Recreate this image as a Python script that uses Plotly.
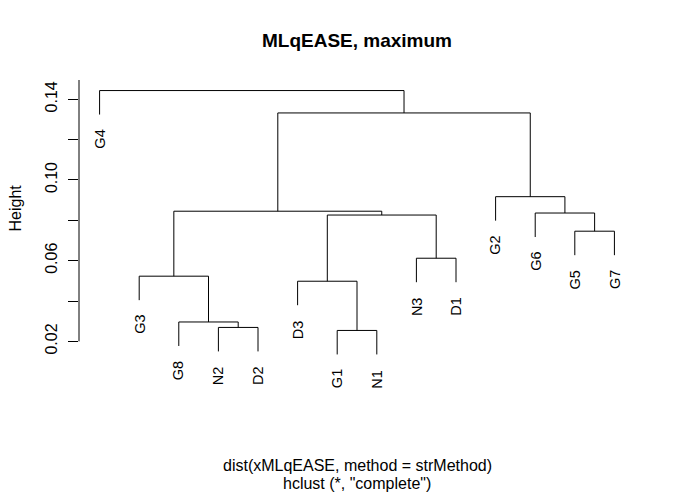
import plotly.graph_objects as go

# Leaf labels in dendrogram order
labels = ["G4", "G3", "G8", "N2", "D2", "D3", "G1", "N1", "N3", "D1", "G2", "G6", "G5", "G7"]

# Merge steps (R-style: negative = leaf index (1-based into labels), positive = earlier merge)
merge_left = [-7, -4, -3, -6, -2, -9, -13, 4, -12, 5, -11, 10, -1]
merge_right = [-8, -5, 2, 1, 3, -10, -14, 6, 7, 8, 9, 11, 12]
merge_height = [0.0254, 0.0269, 0.0296, 0.0498, 0.0523, 0.0612, 0.0746,
                0.0826, 0.0836, 0.0845, 0.0917, 0.1332, 0.1443]

y_tick_vals = [0.02, 0.04, 0.06, 0.08, 0.10, 0.12, 0.14]
y_tick_text = ["0.02", "", "0.06", "", "0.10", "", "0.14"]

title_text = "MLqEASE, maximum"
sub_line1 = "dist(xMLqEASE, method = strMethod)"
sub_line2 = "hclust (*, \"complete\")"

hang = 0.1 * (max(merge_height) - min(merge_height))
FONT = "Liberation Sans, Arial, Helvetica, sans-serif"

# compute positions
node_x = {}
leaf_bottom = {}
xs, ys = [], []

def pos(ref, parent_h):
    if ref < 0:
        i = -ref
        bot = parent_h - hang
        leaf_bottom[i] = bot
        return i, bot
    return node_x[ref], merge_height[ref - 1]

for k in range(len(merge_height)):
    h = merge_height[k]
    xl, yl = pos(merge_left[k], h)
    xr, yr = pos(merge_right[k], h)
    xs += [xl, xl, xr, xr, None]
    ys += [yl, h, h, yr, None]
    node_x[k + 1] = (xl + xr) / 2

fig = go.Figure()
fig.add_trace(go.Scatter(x=xs, y=ys, mode="lines",
                         line=dict(color="black", width=1),
                         hoverinfo="skip", showlegend=False))

for i, lab in enumerate(labels, start=1):
    fig.add_annotation(x=i, y=leaf_bottom[i], text=lab, textangle=-90,
                       showarrow=False, xanchor="center", yanchor="top",
                       yshift=-13, font=dict(family=FONT, size=14.5, color="black"))

n = len(labels)
ypad = 0.04 * (max(merge_height) - (min(merge_height) - hang))
y0 = min(merge_height) - hang - ypad
y1 = max(merge_height) + ypad

fig.add_shape(type="line", xref="paper", x0=0, x1=0, yref="y",
              y0=min(y_tick_vals), y1=y1, line=dict(color="black", width=1))

fig.update_layout(
    width=675, height=497,
    margin=dict(l=79, r=40, t=80, b=132),
    plot_bgcolor="white", paper_bgcolor="white",
    showlegend=False,
    xaxis=dict(range=[1 - 0.04 * (n - 1), n + 0.04 * (n - 1)], visible=False),
    yaxis=dict(range=[y0, y1], tickvals=y_tick_vals, ticktext=y_tick_text,
               ticks="outside", ticklen=10, tickcolor="black", tickwidth=1,
               tickangle=-90, showgrid=False, zeroline=False, showline=False,
               ticklabelstandoff=5,
               tickfont=dict(family=FONT, size=16, color="black")),
    title=dict(text="<b>" + title_text + "</b>", x=0.5, xref="paper",
               y=1 - 40 / 497, yref="container", yanchor="middle",
               font=dict(family=FONT, size=19, color="black")),
)

fig.add_annotation(text="Height", textangle=-90, xref="paper", yref="paper",
                   x=0, y=0.5, xanchor="center", yanchor="middle",
                   xshift=-64, yshift=14, showarrow=False,
                   font=dict(family=FONT, size=16, color="black"))

fig.add_annotation(text=sub_line1, xref="paper", yref="paper", x=0.5, y=0,
                   xanchor="center", yanchor="middle", yshift=-100,
                   showarrow=False,
                   font=dict(family=FONT, size=16, color="black"))
fig.add_annotation(text=sub_line2, xref="paper", yref="paper", x=0.5, y=0,
                   xanchor="center", yanchor="middle", yshift=-118,
                   showarrow=False,
                   font=dict(family=FONT, size=16, color="black"))

fig.write_html("out.html")
